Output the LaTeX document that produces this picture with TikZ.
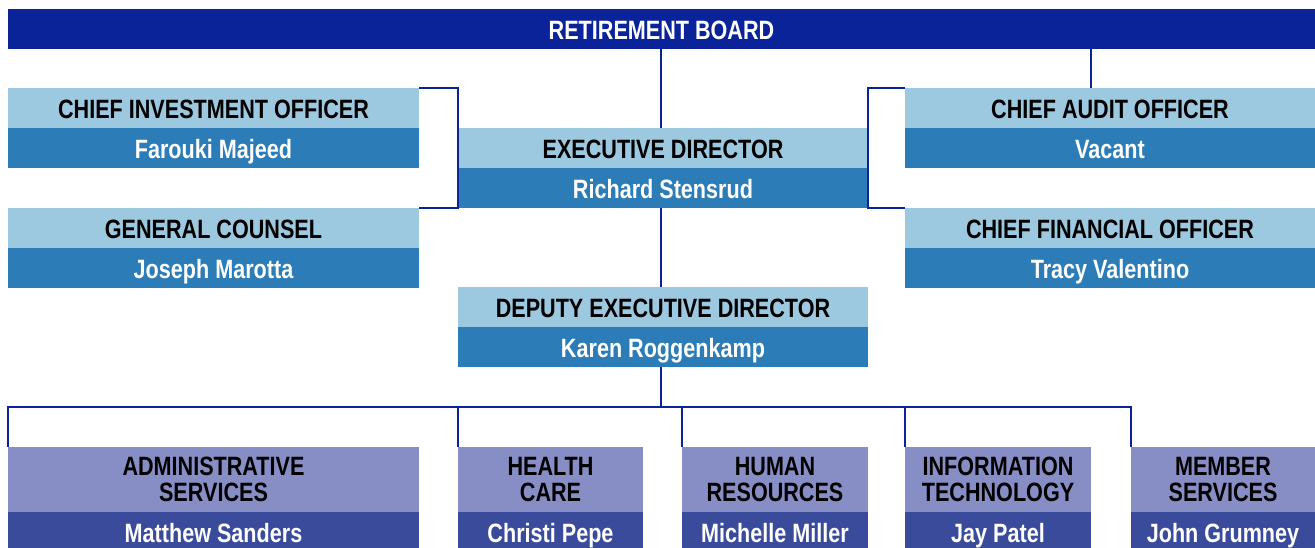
\documentclass[tikz,border=0pt]{standalone}
\usepackage{fontspec}
\setmainfont[FakeStretch=0.815]{Liberation Sans}
\definecolor{navy}{RGB}{10,35,153}
\definecolor{lightblue}{RGB}{156,200,224}
\definecolor{midblue}{RGB}{44,125,183}
\definecolor{lavender}{RGB}{135,142,197}
\definecolor{deeppurple}{RGB}{58,75,156}
\begin{document}
\begin{tikzpicture}[x=1pt,y=-1pt,
  box/.style={inner sep=0pt,outer sep=0pt,anchor=north west,align=center,
    font=\fontsize{26.5}{25.5}\selectfont\bfseries},
  one/.style={box,text height=21.5pt,text depth=0pt,minimum height=40pt},
  hdr/.style={one,fill=lightblue,text=black},
  nm/.style={one,fill=midblue,text=white},
  lhdr/.style={box,fill=lavender,text=black,minimum height=65pt},
  lnm/.style={one,fill=deeppurple,text=white},
  conn/.style={draw=navy,line width=2pt}]
\useasboundingbox (0,0) rectangle (1315,548);
% top
\node[one,fill=navy,text=white,minimum width=1307pt] (board) at (8,9) {RETIREMENT BOARD};
% left column
\node[hdr,minimum width=411pt] (cioh) at (8,88) {CHIEF INVESTMENT OFFICER};
\node[nm,minimum width=411pt] (cion) at (cioh.south west) {Farouki Majeed};
\node[hdr,minimum width=411pt] (gch) at (8,208) {GENERAL COUNSEL};
\node[nm,minimum width=411pt] (gcn) at (gch.south west) {Joseph Marotta};
% centre
\node[hdr,minimum width=410pt] (exeh) at (458,128) {EXECUTIVE DIRECTOR};
\node[nm,minimum width=410pt] (exen) at (exeh.south west) {Richard Stensrud};
\node[hdr,minimum width=410pt] (deph) at (458,287) {DEPUTY EXECUTIVE DIRECTOR};
\node[nm,minimum width=410pt] (depn) at (deph.south west) {Karen Roggenkamp};
% right column
\node[hdr,minimum width=410pt] (caoh) at (905,88) {CHIEF AUDIT OFFICER};
\node[nm,minimum width=410pt] (caon) at (caoh.south west) {Vacant};
\node[hdr,minimum width=410pt] (cfoh) at (905,208) {CHIEF FINANCIAL OFFICER};
\node[nm,minimum width=410pt] (cfon) at (cfoh.south west) {Tracy Valentino};
% bottom row
\node[lhdr,minimum width=411pt] (admh) at (8,447) {ADMINISTRATIVE\\SERVICES};
\node[lnm,minimum width=411pt] (admn) at (admh.south west) {Matthew Sanders};
\node[lhdr,minimum width=185pt] (hch) at (458,447) {HEALTH\\CARE};
\node[lnm,minimum width=185pt] (hcn) at (hch.south west) {Christi Pepe};
\node[lhdr,minimum width=186pt] (hrh) at (682,447) {HUMAN\\RESOURCES};
\node[lnm,minimum width=186pt] (hrn) at (hrh.south west) {Michelle Miller};
\node[lhdr,minimum width=186pt] (ith) at (905,447) {INFORMATION\\TECHNOLOGY};
\node[lnm,minimum width=186pt] (itn) at (ith.south west) {Jay Patel};
\node[lhdr,minimum width=184pt] (msh) at (1131,447) {MEMBER\\SERVICES};
\node[lnm,minimum width=184pt] (msn) at (msh.south west) {John Grumney};
% connectors
\coordinate (caotap) at (1091,88);
\coordinate (bus) at (661,407);
\draw[conn] (board.south -| 661,0) -- (exeh.north -| 661,0);
\draw[conn] (board.south -| caotap) -- (caotap);
\draw[conn] (cioh.north east) -| (exen.south west) -- (gch.north east);
\draw[conn] (caoh.north west) -| (exen.south east) -- (cfoh.north west);
\draw[conn] (exen.south -| 661,0) -- (deph.north -| 661,0);
\draw[conn] (depn.south -| bus) -- (bus);
\draw[conn] (admh.north west) -- (admh.north west |- bus) -- (msh.north west |- bus) -- (msh.north west);
\draw[conn] (hch.north west) -- (hch.north west |- bus);
\draw[conn] (hrh.north west) -- (hrh.north west |- bus);
\draw[conn] (ith.north west) -- (ith.north west |- bus);
\end{tikzpicture}
\end{document}
